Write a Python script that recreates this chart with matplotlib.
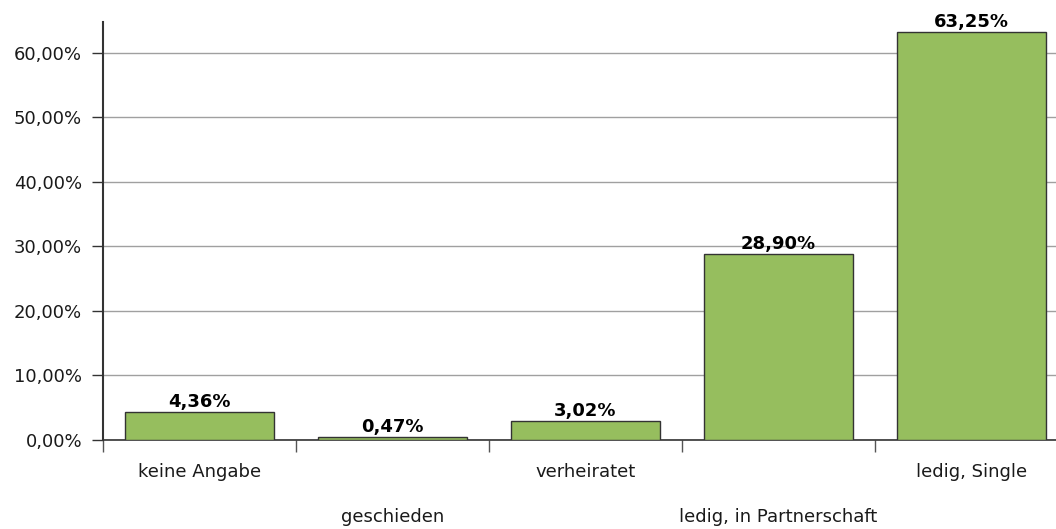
import matplotlib
matplotlib.use('Agg')
import matplotlib.pyplot as plt
from matplotlib.ticker import FuncFormatter

# Daten
kategorien = ["keine Angabe", "geschieden", "verheiratet",
              "ledig, in Partnerschaft", "ledig, Single"]
anteile = [4.36, 0.47, 3.02, 28.90, 63.25]
y_ticks = [0, 10, 20, 30, 40, 50, 60]

GRUEN = "#96BE5E"
DUNKEL = "#333333"
FS = 13

plt.rcParams['font.family'] = ['DejaVu Sans']

fig = plt.figure(figsize=(10.56, 5.29), dpi=100)
ax = fig.add_axes([103/1056, 89/529, 965/1056, 418/529])

x = list(range(len(kategorien)))
bars = ax.bar(x, anteile, width=0.77, color=GRUEN, edgecolor=DUNKEL,
              linewidth=1.0, zorder=3)

for b, v in zip(bars, anteile):
    ax.annotate(f"{v:.2f}%".replace(".", ","),
                (b.get_x() + b.get_width()/2, v),
                xytext=(0, 0.5), textcoords='offset points',
                ha='center', va='bottom', fontsize=FS, fontweight='bold',
                color='black', zorder=4)

ax.set_xlim(-0.5, len(kategorien) - 0.5)
ax.set_ylim(0, 64.8)
ax.set_yticks(y_ticks)
ax.yaxis.set_major_formatter(FuncFormatter(lambda v, p: f"{v:.2f}%".replace(".", ",")))
ax.tick_params(axis='y', length=8, width=1, color=DUNKEL, pad=7,
               labelsize=FS, labelcolor='#1a1a1a')

# Trennstriche zwischen Kategorien
ax.set_xticks([i - 0.5 for i in range(len(kategorien) + 1)])
ax.set_xticklabels([])
ax.tick_params(axis='x', length=8.5, width=1, color='#555555')

# Kategorienamen abwechselnd in zwei Zeilen
for i, name in enumerate(kategorien):
    off = -32 if i % 2 == 0 else -77
    ax.annotate(name, (i, 0), xycoords=('data', 'axes fraction'),
                xytext=(0, off * 0.72), textcoords='offset points',
                ha='center', va='center', fontsize=FS, color='#1a1a1a',
                annotation_clip=False)

ax.grid(axis='y', color='#a0a0a0', linewidth=1, zorder=0)
ax.set_axisbelow(True)
for s in ['top', 'right']:
    ax.spines[s].set_visible(False)
ax.spines['left'].set_color(DUNKEL)
ax.spines['left'].set_linewidth(1.5)
ax.spines['bottom'].set_color(DUNKEL)
ax.spines['bottom'].set_linewidth(1.2)

fig.savefig("out.png", dpi=100, facecolor='white')
